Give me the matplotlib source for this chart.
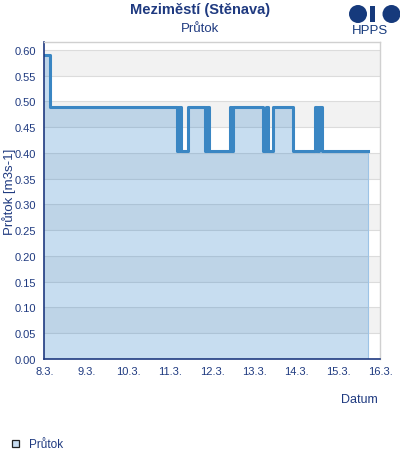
import matplotlib
matplotlib.use("Agg")
import matplotlib.pyplot as plt
import matplotlib.dates as mdates
from matplotlib.patches import Circle, Rectangle
from matplotlib.ticker import FuncFormatter, MultipleLocator
from datetime import datetime, timedelta

plt.rcParams['font.family'] = ['Liberation Sans', 'DejaVu Sans']

# hodiny od 8.3. 00:00 a průtok [m3/s] (schodový průběh)
hodiny = [0, 3, 76, 77, 78, 82, 92, 93, 94, 106, 107, 108, 125, 127, 128, 131,
          142, 155, 156, 157, 159, 185]
prutok = [0.59, 0.488, 0.404, 0.488, 0.404, 0.488, 0.404, 0.488, 0.404, 0.488, 0.404, 0.488,
          0.404, 0.488, 0.404, 0.488, 0.404, 0.488, 0.404, 0.488, 0.404, 0.404]

start = datetime(2024, 3, 8)
cas = [start + timedelta(hours=h) for h in hodiny]

navy = '#1f3a80'
fill_c = '#237bc7'
line_c = '#3a86c3'

fig = plt.figure(figsize=(4, 4.6), dpi=100)
ax = fig.add_axes([0.111, 0.2174, 0.839, 0.6891])

# střídavé šedé pásy a mřížka
for lo in [0.05, 0.15, 0.25, 0.35, 0.45, 0.55]:
    ax.axhspan(lo, lo + 0.05, color='#f2f2f2', zorder=0, lw=0)
for y in [i * 0.05 for i in range(1, 13)]:
    ax.axhline(y, color='#dcdcdc', lw=0.8, zorder=0.5)

ax.fill_between(cas, prutok, 0, step='post', color=fill_c, alpha=0.25, lw=0, zorder=1)
ax.step(cas, prutok, where='post', color=line_c, lw=2.2, zorder=2)
ax.plot([cas[-1], cas[-1]], [0, prutok[-1]], color='#9cc3e6', lw=0.8, zorder=1.5)

ax.set_xlim(start, start + timedelta(days=8))
ax.set_ylim(0, 0.615)
ax.yaxis.set_major_locator(MultipleLocator(0.05))
ax.yaxis.set_major_formatter(FuncFormatter(lambda v, p: f"{v:.2f}"))
ax.xaxis.set_major_locator(mdates.DayLocator())
ax.xaxis.set_major_formatter(FuncFormatter(
    lambda v, p: f"{mdates.num2date(v).day}.{mdates.num2date(v).month}."))
ax.tick_params(length=0, labelsize=8, colors=navy, pad=5)
ax.tick_params(axis='y', pad=6)

for s in ['left', 'bottom']:
    ax.spines[s].set_color(navy)
    ax.spines[s].set_linewidth(1.2)
for s in ['top', 'right']:
    ax.spines[s].set_color('#d0d0d0')
    ax.spines[s].set_linewidth(1)

ax.set_ylabel('Průtok [m3s-1]', color=navy, fontsize=9.5, labelpad=2)
ax.yaxis.set_label_coords(-0.085, 0.53)

fig.text(0.5, 0.978, 'Meziměstí (Stěnava)', ha='center', va='center',
         fontsize=10.5, fontweight='bold', color=navy)
fig.text(0.5, 0.937, 'Průtok', ha='center', va='center', fontsize=9.5, color=navy)
fig.text(0.945, 0.130, 'Datum', ha='right', va='center', fontsize=9, color=navy)
fig.text(0.0725, 0.033, 'Průtok', ha='left', va='center', fontsize=8.5, color=navy)

# logo HPPS a značka legendy v pixelových souřadnicích
ov = fig.add_axes([0, 0, 1, 1])
ov.set_xlim(0, 400)
ov.set_ylim(460, 0)
ov.axis('off')
logo = '#163a7c'
c1 = Circle((358, 15), 9, color=logo, lw=0)
ov.add_patch(c1)
c1.set_clip_path(Rectangle((340, 0), 27, 30, transform=ov.transData))
ov.add_patch(Rectangle((370, 7), 4.5, 16, color=logo, lw=0))
ov.add_patch(Circle((391.5, 15), 9, color=logo, lw=0))
ov.text(370, 31, 'HPPS', ha='center', va='center', fontsize=9.5, color=logo)
ov.add_patch(Rectangle((12, 441), 7, 7, facecolor='#c8ddf1', edgecolor='#222222', lw=0.9))

fig.savefig('out.png', dpi=100)
